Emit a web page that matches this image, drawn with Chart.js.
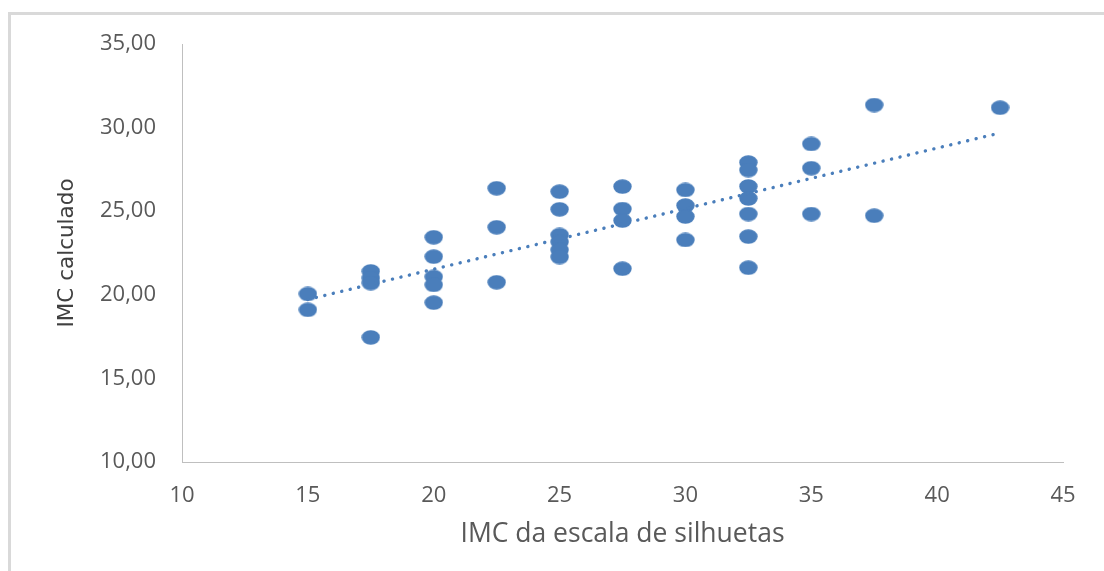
<!DOCTYPE html>
<html>
<head>
<meta charset="utf-8">
<script src="https://cdn.jsdelivr.net/npm/chart.js@4"></script>
<style>
  html, body { margin: 0; padding: 0; background: #fff; overflow: hidden; }
  #frame { position: absolute; left: 8px; top: 12px; width: 1200px; height: 700px;
           border-left: 3px solid #d9d9d9; border-top: 3px solid #d9d9d9; }
  #wrap { position: absolute; left: 0; top: 0; width: 1104px; height: 571px; }
</style>
</head>
<body>
<div id="frame"></div>
<div id="wrap"><canvas id="scatter"></canvas></div>
<script>
// IMC da escala de silhuetas (x) vs IMC calculado (y)
const silhueta = [15, 15,
  17.5, 17.5, 17.5, 17.5,
  20, 20, 20, 20, 20,
  22.5, 22.5, 22.5,
  25, 25, 25, 25, 25, 25,
  27.5, 27.5, 27.5, 27.5,
  30, 30, 30, 30,
  32.5, 32.5, 32.5, 32.5, 32.5, 32.5, 32.5,
  35, 35, 35,
  37.5, 37.5,
  42.5];
const imcCalculado = [20.05, 19.1,
  21.4, 21.0, 20.7, 17.45,
  23.44, 22.28, 21.07, 20.59, 19.53,
  26.37, 24.04, 20.75,
  26.17, 25.11, 23.58, 23.16, 22.68, 22.26,
  26.47, 25.13, 24.44, 21.56,
  26.27, 25.34, 24.68, 23.28,
  27.91, 27.46, 26.48, 25.76, 24.83, 23.48, 21.62,
  29.02, 27.57, 24.83,
  31.35, 24.73,
  31.19];

// linear trendline endpoints
const trendX = [15, 42.5];
const trendY = [19.72, 29.68];

const xTicks = [10, 15, 20, 25, 30, 35, 40, 45];
const yTicks = [10, 15, 20, 25, 30, 35];

const blue = 'rgb(74,126,187)';

// Excel-like slightly wide marker
const marker = document.createElement('canvas');
marker.width = 19;
marker.height = 15;
const mctx = marker.getContext('2d');
mctx.fillStyle = blue;
mctx.beginPath();
mctx.ellipse(9.5, 7.5, 9.2, 7.3, 0, 0, Math.PI * 2);
mctx.fill();

const points = silhueta.map((x, i) => ({ x: x, y: imcCalculado[i] }));
const trend = trendX.map((x, i) => ({ x: x, y: trendY[i] }));

const ctx = document.getElementById('scatter').getContext('2d');
new Chart(ctx, {
  type: 'scatter',
  data: {
    datasets: [
      {
        label: 'IMC calculado',
        data: points,
        pointStyle: marker,
        pointRadius: 9,
        order: 2
      },
      {
        label: 'Linear',
        type: 'line',
        data: trend,
        showLine: true,
        borderColor: blue,
        borderWidth: 3.4,
        borderDash: [0.1, 8.6],
        borderCapStyle: 'round',
        pointRadius: 0,
        fill: false,
        order: 1
      }
    ]
  },
  options: {
    responsive: true,
    maintainAspectRatio: false,
    animation: false,
    devicePixelRatio: 1,
    layout: { padding: { left: 0, right: 41, top: 44, bottom: 0 } },
    plugins: { legend: { display: false }, tooltip: { enabled: false } },
    scales: {
      x: {
        type: 'linear',
        min: 10,
        max: 45,
        afterBuildTicks: (s) => { s.ticks = xTicks.map(v => ({ value: v })); },
        afterFit: (s) => { s.height = 109; },
        grid: { display: false, drawTicks: false },
        border: { display: true, color: '#bfbfbf', width: 1 },
        ticks: {
          padding: 21,
          color: '#595959',
          font: { family: 'Open Sans', size: 22 }
        },
        title: {
          display: true,
          text: 'IMC da escala de silhuetas',
          color: '#595959',
          font: { family: 'Open Sans', size: 26.5 },
          padding: { top: 0, bottom: 21 }
        }
      },
      y: {
        type: 'linear',
        min: 10,
        max: 35,
        afterBuildTicks: (s) => { s.ticks = yTicks.map(v => ({ value: v })); },
        afterFit: (s) => { s.width = 182; },
        grid: { display: false, drawTicks: false },
        border: { display: true, color: '#bfbfbf', width: 1 },
        ticks: {
          padding: 26,
          color: '#595959',
          font: { family: 'Open Sans', size: 22 },
          callback: (v) => v.toFixed(2).replace('.', ',')
        },
        title: {
          display: true,
          text: 'IMC calculado',
          color: '#404040',
          font: { family: 'DejaVu Sans', size: 21.5 },
          padding: { top: 55, bottom: 0 }
        }
      }
    }
  }
});
</script>
</body>
</html>
